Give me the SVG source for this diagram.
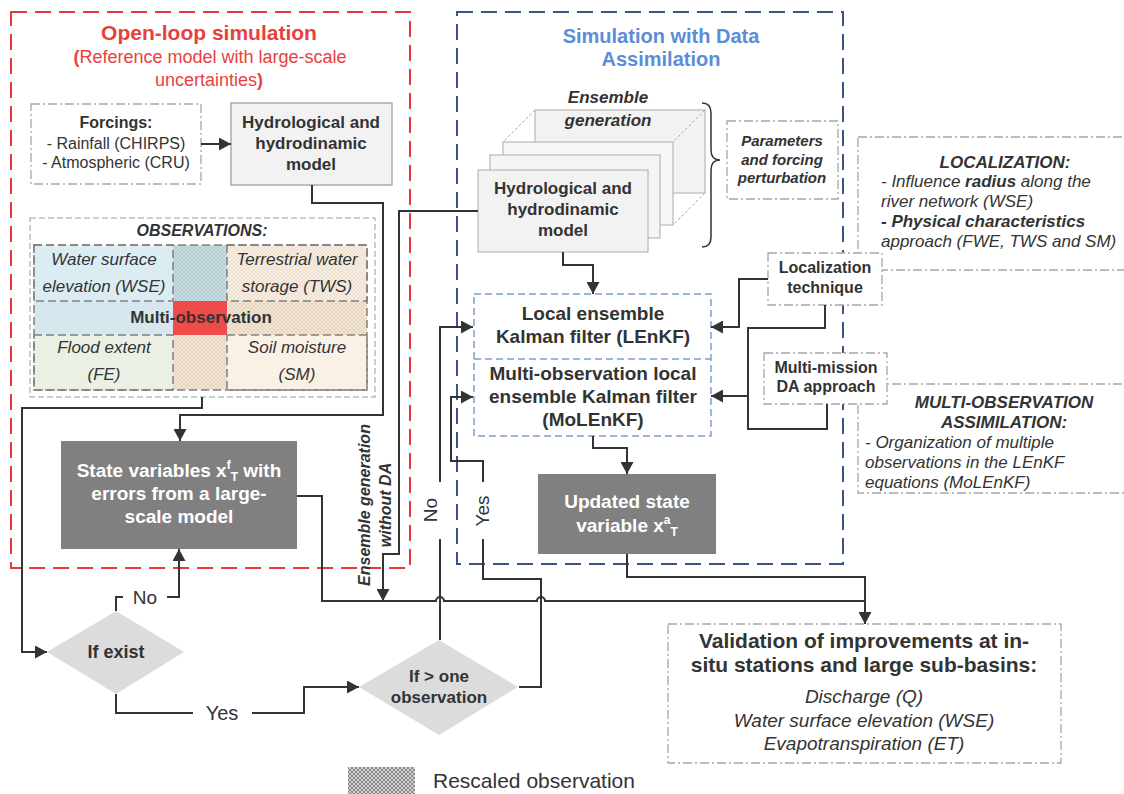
<svg xmlns="http://www.w3.org/2000/svg" width="1124" height="794" viewBox="0 0 1124 794">
<style>
text{font-family:"Liberation Sans",Arial,sans-serif;fill:#333}
.b{font-weight:bold}
.i{font-style:italic}
.c{text-anchor:middle}
.w{fill:#fff}
.ln{fill:none;stroke:#333;stroke-width:2}
.dd{fill:#fff;stroke:#a6a6a6;stroke-width:1.3;stroke-dasharray:9 3 2 3}
.cell{stroke:#808080;stroke-width:1.5;stroke-dasharray:8 4}
.stk{fill:#f2f2f2;stroke:#b8b8b8;stroke-width:1.2}
</style>
<defs>
<marker id="arr" markerUnits="userSpaceOnUse" markerWidth="13" markerHeight="13" refX="12" refY="6.5" orient="auto">
<path d="M0,0 L12,6.5 L0,13 z" fill="#333"/>
</marker>
<pattern id="hGray" width="4" height="4" patternUnits="userSpaceOnUse">
<rect width="4" height="4" fill="#d0d0d0"/>
<path d="M0,0 L4,4 M4,0 L0,4" stroke="#7a7a7a" stroke-width="0.8"/>
</pattern>
<pattern id="hBlue" width="4" height="4" patternUnits="userSpaceOnUse">
<rect width="4" height="4" fill="#cbdfe3"/>
<path d="M0,0 L4,4 M4,0 L0,4" stroke="#aac3c7" stroke-width="0.7"/>
</pattern>
<pattern id="hBeige" width="4" height="4" patternUnits="userSpaceOnUse">
<rect width="4" height="4" fill="#f3e6d3"/>
<path d="M0,0 L4,4 M4,0 L0,4" stroke="#e0cfb7" stroke-width="0.7"/>
</pattern>
<pattern id="hLight" width="4" height="4" patternUnits="userSpaceOnUse">
<rect width="4" height="4" fill="#f6ece0"/>
<path d="M0,0 L4,4 M4,0 L0,4" stroke="#ebdccb" stroke-width="0.6"/>
</pattern>
</defs>
<rect width="1124" height="794" fill="#fff"/>

<g id="openloop">
<rect x="11" y="12" width="399" height="556" fill="none" stroke="#e8383d" stroke-width="2" stroke-dasharray="16 8"/>
<text x="209" y="40" class="b c" font-size="21" style="fill:#e8403f">Open-loop simulation</text>
<text x="210" y="63" class="c" font-size="18" style="fill:#e8403f"><tspan class="b">(</tspan>Reference model with large-scale</text>
<text x="209" y="86" class="c" font-size="18" style="fill:#e8403f">uncertainties<tspan class="b">)</tspan></text>
</g>

<g id="da">
<rect x="457" y="12" width="386" height="552" fill="none" stroke="#3b5587" stroke-width="2" stroke-dasharray="16 8"/>
<text x="661" y="43" class="b c" font-size="20" style="fill:#5b8dd9">Simulation with Data</text>
<text x="661" y="66" class="b c" font-size="20" style="fill:#5b8dd9">Assimilation</text>
</g>

<g id="forcings">
<rect x="31" y="104" width="170" height="80" class="dd"/>
<text x="116" y="128" class="b c" font-size="16">Forcings:</text>
<text x="116" y="149" class="c" font-size="16">- Rainfall (CHIRPS)</text>
<text x="116" y="168" class="c" font-size="16">- Atmospheric (CRU)</text>
</g>

<g id="model">
<rect x="231" y="103" width="161" height="82" fill="#f2f2f2" stroke="#9a9a9a" stroke-width="1.2"/>
<text x="311" y="128" class="b c" font-size="17">Hydrological and</text>
<text x="311" y="149" class="b c" font-size="17">hydrodinamic</text>
<text x="311" y="170" class="b c" font-size="17">model</text>
</g>

<g id="observations">
<rect x="30" y="218" width="345" height="179" fill="#fff" stroke="#bdbdbd" stroke-width="1.5" stroke-dasharray="6 3"/>
<text x="202" y="236" class="b i c" font-size="16">OBSERVATIONS:</text>
<rect x="34" y="245" width="139" height="56" fill="#dbedf3"/>
<rect x="173" y="245" width="54" height="56" fill="url(#hBlue)"/>
<rect x="227" y="245" width="140" height="56" fill="url(#hLight)"/>
<rect x="34" y="301" width="139" height="34" fill="#d6e8ee"/>
<rect x="173" y="301" width="54" height="34" fill="#f04b4b"/>
<rect x="227" y="301" width="140" height="34" fill="url(#hBeige)"/>
<rect x="34" y="335" width="139" height="55" fill="#eaf1e4"/>
<rect x="173" y="335" width="54" height="55" fill="url(#hBeige)"/>
<rect x="227" y="335" width="140" height="55" fill="#faf1e6"/>
<rect x="34" y="245" width="333" height="145" fill="none" class="cell"/>
<rect x="34" y="245" width="139" height="56" fill="none" class="cell"/>
<rect x="227" y="245" width="140" height="56" fill="none" class="cell"/>
<rect x="34" y="335" width="139" height="55" fill="none" class="cell"/>
<rect x="227" y="335" width="140" height="55" fill="none" class="cell"/>
<text x="104" y="265" class="i c" font-size="17">Water surface</text>
<text x="104" y="292" class="i c" font-size="17">elevation (WSE)</text>
<text x="297" y="265" class="i c" font-size="17">Terrestrial water</text>
<text x="297" y="292" class="i c" font-size="17">storage (TWS)</text>
<text x="201" y="323" class="b c" font-size="17">Multi-observation</text>
<text x="104" y="353" class="i c" font-size="17">Flood extent</text>
<text x="104" y="380" class="i c" font-size="17">(FE)</text>
<text x="297" y="353" class="i c" font-size="17">Soil moisture</text>
<text x="297" y="380" class="i c" font-size="17">(SM)</text>
</g>

<g id="state">
<rect x="61" y="441" width="236" height="108" fill="#808080"/>
<text x="179" y="477" class="b c w" font-size="19">State variables x<tspan font-size="12" dy="-8">f</tspan><tspan font-size="12" dy="12">T</tspan><tspan dy="-4"> with</tspan></text>
<text x="179" y="500" class="b c w" font-size="19">errors from a large-</text>
<text x="179" y="523" class="b c w" font-size="19">scale model</text>
</g>

<g id="ifexist">
<polygon points="116,611 184,652 116,694 47,652" fill="#dcdcdc"/>
<text x="116" y="658" class="b c" font-size="18">If exist</text>
</g>

<g id="ifmore">
<polygon points="439,640 518,687 439,735 359,687" fill="#dcdcdc"/>
<text x="439" y="682" class="b c" font-size="17">If &gt; one</text>
<text x="439" y="703" class="b c" font-size="17">observation</text>
</g>

<g id="ensemble">
<rect x="535" y="110" width="170" height="83" class="stk"/>
<text x="608" y="103" class="b i c" font-size="17">Ensemble</text>
<text x="608" y="126" class="b i c" font-size="17">generation</text>
<path d="M535,110 L503,142 M705,110 L673,142 M705,193 L673,225" stroke="#aaa" stroke-width="1" stroke-dasharray="3 2" fill="none"/>
<rect x="503" y="142" width="170" height="83" class="stk" style="fill:#f7f7f7"/>
<rect x="490" y="155" width="170" height="83" class="stk" style="fill:#f5f5f5"/>
<rect x="478" y="170" width="170" height="82" class="stk"/>
<text x="563" y="194" class="b c" font-size="17">Hydrological and</text>
<text x="563" y="215" class="b c" font-size="17">hydrodinamic</text>
<text x="563" y="236" class="b c" font-size="17">model</text>
<path d="M702,103 Q711,103 711,113 V150 Q711,160 720,160 Q711,160 711,170 V237 Q711,247 702,247" fill="none" stroke="#333" stroke-width="1.5"/>
</g>

<g id="params">
<rect x="727" y="121" width="111" height="78" class="dd"/>
<text x="782" y="146" class="b i c" font-size="15">Parameters</text>
<text x="782" y="165" class="b i c" font-size="15">and forcing</text>
<text x="782" y="183" class="b i c" font-size="15">perturbation</text>
</g>

<g id="localization">
<rect x="858" y="137" width="280" height="133" class="dd"/>
<text x="1005" y="168" class="b i c" font-size="17">LOCALIZATION:</text>
<text x="881" y="187" class="i" font-size="17">- Influence <tspan class="b">radius</tspan> along the</text>
<text x="881" y="207" class="i" font-size="17">river network (WSE)</text>
<text x="881" y="227" class="b i" font-size="17">- Physical characteristics</text>
<text x="881" y="247" class="i" font-size="17">approach (FWE, TWS and SM)</text>
</g>

<g id="multiobs">
<rect x="858" y="384" width="280" height="109" class="dd"/>
<text x="1004" y="408" class="b i c" font-size="17">MULTI-OBSERVATION</text>
<text x="1004" y="428" class="b i c" font-size="17">ASSIMILATION:</text>
<text x="865" y="448" class="i" font-size="17">- Organization of multiple</text>
<text x="865" y="468" class="i" font-size="17">observations in the LEnKF</text>
<text x="865" y="488" class="i" font-size="17">equations (MoLEnKF)</text>
</g>

<g id="technique">
<rect x="768" y="253" width="114" height="52" class="dd"/>
<text x="825" y="273" class="b c" font-size="16">Localization</text>
<text x="825" y="293" class="b c" font-size="16">technique</text>
</g>

<g id="multimission">
<rect x="764" y="353" width="123" height="51" class="dd"/>
<text x="826" y="373" class="b c" font-size="16">Multi-mission</text>
<text x="826" y="392" class="b c" font-size="16">DA approach</text>
</g>

<g id="kalman">
<rect x="474" y="294" width="237" height="142" fill="#fff" stroke="#7c9fd6" stroke-width="1.5" stroke-dasharray="7 4"/>
<line x1="474" y1="359" x2="711" y2="359" stroke="#7c9fd6" stroke-width="1.5" stroke-dasharray="7 4"/>
<text x="593" y="320" class="b c" font-size="19">Local ensemble</text>
<text x="593" y="343" class="b c" font-size="19">Kalman filter (LEnKF)</text>
<text x="593" y="380" class="b c" font-size="19">Multi-observation local</text>
<text x="593" y="403" class="b c" font-size="19">ensemble Kalman filter</text>
<text x="593" y="426" class="b c" font-size="19">(MoLEnKF)</text>
</g>

<g id="updated">
<rect x="538" y="474" width="178" height="80" fill="#808080"/>
<text x="627" y="508" class="b c w" font-size="19">Updated state</text>
<text x="627" y="532" class="b c w" font-size="19">variable x<tspan font-size="12" dy="-8">a</tspan><tspan font-size="12" dy="12">T</tspan></text>
</g>

<g id="validation">
<rect x="668" y="624" width="393" height="139" class="dd"/>
<text x="864" y="648" class="b c" font-size="21">Validation of improvements at in-</text>
<text x="864" y="672" class="b c" font-size="21">situ stations and large sub-basins:</text>
<text x="864" y="703" class="i c" font-size="19">Discharge (Q)</text>
<text x="864" y="727" class="i c" font-size="19">Water surface elevation (WSE)</text>
<text x="864" y="750" class="i c" font-size="19">Evapotranspiration (ET)</text>
</g>

<g id="legend">
<rect x="348" y="767" width="67" height="30" fill="url(#hGray)"/>
<text x="433" y="788" font-size="21">Rescaled observation</text>
</g>

<g id="connectors">
<path class="ln" d="M201,144 H231" marker-end="url(#arr)"/>
<path class="ln" d="M312,185 V203 H383 V415 H180 V441" marker-end="url(#arr)"/>
<path class="ln" d="M202,397 V408 H22 V652 H47" marker-end="url(#arr)"/>
<path class="ln" d="M116,611 V597 H123"/>
<path class="ln" d="M167,597 H179 V549" marker-end="url(#arr)"/>
<text x="145" y="604" font-size="19" class="c">No</text>
<path class="ln" d="M116,694 V713 H193"/>
<path class="ln" d="M252,713 H304 V687 H359" marker-end="url(#arr)"/>
<text x="222" y="720" font-size="20" class="c">Yes</text>
<path class="ln" d="M440,640 V539"/>
<path class="ln" d="M440,482 V327 H473" marker-end="url(#arr)"/>
<text transform="translate(437,510) rotate(-90)" font-size="19" class="c">No</text>
<path class="ln" d="M519,687 H541 V579 H483 V539"/>
<path class="ln" d="M483,482 V461 H451 V397 H473" marker-end="url(#arr)"/>
<text transform="translate(489,511) rotate(-90)" font-size="19" class="c">Yes</text>
<path class="ln" d="M478,211 H399 V554 H383 V601" marker-end="url(#arr)"/>
<text transform="translate(370,505) rotate(-90)" font-size="16" class="b i c">Ensemble generation</text>
<text transform="translate(391,505) rotate(-90)" font-size="16" class="b i c">without DA</text>
<path class="ln" d="M297,496 H322 V601 H436 A4,4 0 0 1 444,601 H537 A4,4 0 0 1 545,601 H865 V624" marker-end="url(#arr)"/>
<path class="ln" d="M627,554 V577 H865 V601"/>
<path class="ln" d="M563,252 V265 H593 V294" marker-end="url(#arr)"/>
<path class="ln" d="M593,436 V448 H627 V474" marker-end="url(#arr)"/>
<path class="ln" d="M768,279 H739 V327 H711" marker-end="url(#arr)"/>
<path class="ln" d="M825,305 V328 H748 V429 H827 V404"/>
<path class="ln" d="M748,396 H711" marker-end="url(#arr)"/>
</g>
</svg>
